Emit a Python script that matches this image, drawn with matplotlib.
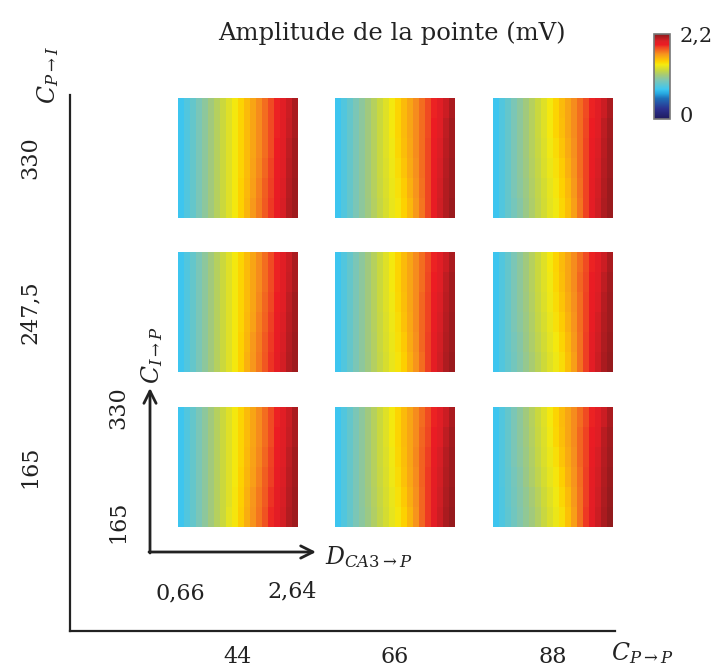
import numpy as np
import matplotlib
matplotlib.use("Agg")
import matplotlib.pyplot as plt
from matplotlib.colors import LinearSegmentedColormap
from matplotlib.lines import Line2D

plt.rcParams['font.family'] = ['DejaVu Serif']
plt.rcParams['mathtext.fontset'] = 'dejavuserif'

# valeurs en centiemes de mV, 6 lignes (haut -> bas) x 20 colonnes (D_CA3->P)
amp_330_44 = [
    [77, 84, 91, 98, 105, 113, 120, 127, 134, 141, 148, 156, 163, 170, 177, 184, 191, 199, 206, 213],
    [77, 84, 91, 98, 105, 113, 120, 127, 134, 141, 148, 156, 163, 170, 177, 184, 191, 199, 207, 213],
    [77, 84, 91, 98, 105, 113, 120, 127, 134, 141, 148, 156, 163, 170, 177, 184, 192, 200, 208, 214],
    [77, 84, 91, 98, 105, 113, 120, 127, 134, 141, 148, 156, 164, 171, 178, 186, 193, 201, 209, 214],
    [77, 84, 91, 98, 105, 113, 120, 127, 134, 141, 149, 157, 165, 172, 180, 187, 194, 202, 210, 215],
    [77, 84, 91, 98, 105, 113, 120, 127, 134, 141, 149, 158, 166, 173, 181, 188, 195, 203, 211, 215]]
amp_2475_44 = [
    [77, 84, 91, 98, 105, 113, 120, 127, 134, 141, 148, 156, 163, 170, 177, 184, 191, 199, 206, 213],
    [77, 84, 91, 98, 105, 113, 120, 127, 134, 141, 148, 156, 163, 170, 177, 184, 191, 199, 207, 213],
    [77, 84, 91, 98, 105, 113, 120, 127, 134, 141, 148, 156, 163, 171, 178, 185, 192, 200, 208, 214],
    [77, 84, 91, 98, 105, 113, 120, 127, 134, 141, 148, 157, 164, 172, 179, 187, 194, 202, 209, 214],
    [77, 84, 91, 98, 105, 113, 120, 127, 134, 141, 149, 158, 166, 173, 181, 188, 195, 203, 210, 215],
    [77, 84, 91, 98, 105, 113, 120, 127, 134, 141, 149, 159, 167, 174, 182, 189, 196, 204, 211, 215]]
amp_165_44 = [
    [77, 84, 91, 98, 105, 113, 120, 127, 134, 141, 148, 156, 163, 170, 177, 184, 191, 199, 206, 213],
    [77, 84, 91, 98, 105, 113, 120, 127, 134, 141, 148, 156, 163, 170, 177, 184, 192, 200, 207, 213],
    [77, 84, 91, 98, 105, 113, 120, 127, 134, 141, 148, 157, 164, 171, 178, 186, 193, 201, 208, 214],
    [77, 84, 91, 98, 105, 113, 120, 127, 134, 141, 149, 158, 165, 172, 180, 187, 195, 202, 209, 214],
    [77, 84, 91, 98, 105, 113, 120, 127, 134, 142, 150, 159, 167, 174, 181, 189, 196, 203, 210, 215],
    [77, 84, 91, 98, 105, 113, 120, 127, 135, 142, 151, 160, 168, 175, 183, 190, 197, 204, 211, 215]]
amp_330_66 = [
    [77, 84, 91, 98, 105, 113, 120, 127, 134, 141, 148, 156, 163, 170, 177, 184, 191, 199, 206, 213],
    [77, 84, 91, 98, 105, 113, 120, 127, 134, 141, 148, 156, 163, 170, 177, 184, 192, 200, 208, 214],
    [77, 84, 91, 98, 105, 113, 120, 127, 134, 140, 147, 155, 162, 170, 177, 185, 193, 202, 209, 214],
    [77, 84, 91, 98, 105, 113, 120, 127, 133, 139, 146, 153, 161, 169, 177, 185, 194, 203, 210, 215],
    [77, 84, 91, 98, 105, 113, 120, 126, 132, 138, 144, 151, 159, 168, 176, 185, 195, 204, 211, 215],
    [77, 84, 91, 98, 105, 112, 119, 125, 131, 137, 142, 149, 157, 166, 175, 185, 195, 205, 211, 216]]
amp_2475_66 = [
    [77, 84, 91, 98, 105, 113, 120, 127, 134, 141, 148, 156, 163, 170, 177, 184, 191, 199, 206, 213],
    [77, 84, 91, 98, 105, 113, 120, 127, 134, 141, 148, 156, 163, 170, 177, 185, 192, 200, 208, 214],
    [77, 84, 91, 98, 105, 113, 120, 127, 134, 140, 147, 155, 163, 170, 178, 186, 194, 202, 209, 214],
    [77, 84, 91, 98, 105, 113, 120, 126, 133, 139, 146, 154, 162, 170, 178, 186, 195, 203, 210, 215],
    [77, 84, 91, 98, 105, 113, 119, 126, 132, 138, 145, 152, 161, 169, 178, 187, 196, 204, 211, 215],
    [77, 84, 91, 98, 105, 112, 119, 125, 131, 137, 143, 150, 159, 168, 177, 187, 196, 205, 212, 216]]
amp_165_66 = [
    [77, 84, 91, 98, 105, 113, 120, 127, 134, 141, 148, 156, 163, 170, 177, 184, 191, 199, 206, 213],
    [77, 84, 91, 98, 105, 113, 120, 127, 134, 141, 148, 156, 163, 170, 178, 185, 193, 201, 208, 214],
    [77, 84, 91, 98, 105, 113, 120, 127, 133, 140, 147, 155, 163, 171, 179, 187, 195, 203, 210, 215],
    [77, 84, 91, 98, 105, 113, 120, 126, 132, 139, 146, 154, 162, 170, 179, 188, 196, 204, 211, 215],
    [77, 84, 91, 98, 105, 112, 119, 125, 131, 137, 144, 152, 160, 169, 178, 188, 197, 205, 212, 216],
    [77, 84, 91, 98, 104, 111, 118, 124, 130, 136, 142, 149, 158, 168, 178, 188, 198, 206, 213, 217]]
amp_330_88 = [
    [77, 84, 91, 98, 105, 113, 120, 127, 134, 141, 148, 156, 163, 170, 177, 184, 191, 199, 206, 213],
    [77, 84, 91, 98, 105, 113, 120, 127, 134, 141, 148, 155, 163, 170, 177, 185, 192, 200, 208, 214],
    [77, 84, 91, 98, 105, 113, 120, 126, 133, 140, 146, 153, 161, 169, 177, 186, 194, 202, 209, 215],
    [77, 84, 91, 98, 105, 112, 119, 125, 132, 138, 144, 151, 159, 168, 177, 186, 195, 203, 210, 215],
    [77, 84, 91, 98, 104, 111, 118, 124, 130, 136, 142, 149, 157, 166, 176, 186, 196, 204, 211, 216],
    [77, 84, 91, 97, 103, 110, 117, 123, 129, 135, 140, 147, 155, 165, 175, 186, 197, 205, 212, 216]]
amp_2475_88 = [
    [77, 84, 91, 98, 105, 113, 120, 127, 134, 141, 148, 156, 163, 170, 177, 184, 191, 199, 206, 213],
    [77, 84, 91, 98, 105, 113, 120, 127, 134, 140, 147, 155, 163, 170, 178, 185, 193, 201, 208, 214],
    [77, 84, 91, 98, 105, 112, 119, 126, 133, 139, 146, 153, 161, 169, 177, 186, 194, 202, 210, 215],
    [77, 84, 91, 98, 104, 111, 118, 125, 131, 137, 144, 151, 159, 168, 177, 186, 195, 204, 211, 215],
    [77, 84, 91, 97, 103, 110, 117, 123, 129, 135, 141, 148, 157, 166, 176, 187, 197, 205, 212, 216],
    [77, 84, 90, 96, 102, 109, 116, 122, 128, 134, 139, 146, 155, 165, 176, 187, 198, 206, 213, 217]]
amp_165_88 = [
    [77, 84, 91, 98, 105, 113, 120, 127, 134, 141, 148, 156, 163, 170, 177, 184, 191, 199, 206, 213],
    [77, 84, 91, 98, 105, 112, 119, 126, 133, 140, 147, 155, 163, 170, 178, 186, 193, 201, 209, 214],
    [77, 84, 91, 98, 104, 111, 118, 125, 132, 138, 145, 153, 161, 169, 178, 186, 195, 203, 210, 215],
    [77, 84, 90, 97, 103, 110, 117, 123, 130, 136, 142, 150, 159, 168, 177, 187, 196, 204, 211, 216],
    [77, 83, 90, 96, 102, 108, 115, 121, 128, 134, 140, 147, 156, 166, 176, 187, 197, 205, 212, 217],
    [77, 83, 89, 95, 101, 107, 113, 119, 126, 132, 138, 145, 154, 165, 176, 188, 198, 206, 213, 218]]

c_pp_labels = ['44', '66', '88']
c_pi_labels = ['330', '247,5', '165']
panels = [[amp_330_44, amp_330_66, amp_330_88],
          [amp_2475_44, amp_2475_66, amp_2475_88],
          [amp_165_44, amp_165_66, amp_165_88]]
vmin, vmax = 0, 2.2

W, H = 715, 671


def fx(x):
    return x / W


def fy(y):
    return 1 - y / H


cmap = LinearSegmentedColormap.from_list('amp', [
    (0.00, '#1f1a5e'), (0.12, '#2b3190'), (0.24, '#1f6fb8'), (0.30, '#27aae1'),
    (0.35, '#3ec6f0'), (0.45, '#7dc6b5'), (0.52, '#a5ca78'), (0.58, '#cdd93a'),
    (0.64, '#f4ea10'), (0.68, '#fed100'), (0.765, '#f7941d'), (0.85, '#ef4123'),
    (0.875, '#ec1c24'), (0.92, '#dd1f26'), (1.00, '#8a1a1c')])

fig = plt.figure(figsize=(W / 100, H / 100), dpi=100)

col_x = [178, 335, 493]
row_y = [98, 252, 407]
pw, ph = 120, 120
for i in range(3):
    for j in range(3):
        ax = fig.add_axes([fx(col_x[j]), fy(row_y[i] + ph), pw / W, ph / H])
        ax.imshow(np.array(panels[i][j]) / 100, cmap=cmap, vmin=vmin, vmax=vmax,
                  aspect='auto', interpolation='nearest')
        ax.set_axis_off()

txt = '#222222'
# grands axes
fig.add_artist(Line2D([fx(70), fx(70)], [fy(95), fy(631)], color=txt, lw=1.6))
fig.add_artist(Line2D([fx(70), fx(615)], [fy(631), fy(631)], color=txt, lw=1.6))

fs = 16
for j, lab in enumerate(c_pp_labels):
    fig.text(fx(col_x[j] + pw / 2), fy(657), lab, ha='center', va='center', fontsize=fs, color=txt)
for i, lab in enumerate(c_pi_labels):
    fig.text(fx(30), fy(row_y[i] + ph / 2), lab, ha='center', va='center', rotation=90,
             fontsize=fs, color=txt)
fig.text(fx(611), fy(653), r'$C_{P\rightarrow P}$', ha='left', va='center', fontsize=17, color=txt)
fig.text(fx(48), fy(75), r'$C_{P\rightarrow I}$', ha='center', va='center', rotation=90,
         fontsize=17, color=txt)

fig.text(fx(392), fy(33), 'Amplitude de la pointe (mV)', ha='center', va='center',
         fontsize=17.5, color=txt)

# petits axes (D_CA3->P, C_I->P)
arrow = dict(arrowstyle='->', lw=2, color=txt, mutation_scale=22, shrinkA=0, shrinkB=0)
fig.add_artist(plt.Annotation('', xy=(fx(150), fy(388)), xytext=(fx(150), fy(553)),
                              xycoords='figure fraction', arrowprops=arrow))
fig.add_artist(plt.Annotation('', xy=(fx(316), fy(552)), xytext=(fx(149), fy(552)),
                              xycoords='figure fraction', arrowprops=arrow))
fig.text(fx(325), fy(557), r'$D_{CA3\rightarrow P}$', ha='left', va='center', fontsize=17, color=txt)
fig.text(fx(152), fy(384), r'$C_{I\rightarrow P}$', ha='center', va='bottom', rotation=90,
         fontsize=17, color=txt)
fig.text(fx(118), fy(408), '330', ha='center', va='center', rotation=90, fontsize=fs, color=txt)
fig.text(fx(118), fy(522), '165', ha='center', va='center', rotation=90, fontsize=fs, color=txt)
fig.text(fx(180), fy(593), '0,66', ha='center', va='center', fontsize=fs, color=txt)
fig.text(fx(292), fy(591), '2,64', ha='center', va='center', fontsize=fs, color=txt)

# barre de couleur
cax = fig.add_axes([fx(654), fy(119), 16 / W, 85 / H])
sm = plt.cm.ScalarMappable(cmap=cmap, norm=plt.Normalize(vmin, vmax))
cb = fig.colorbar(sm, cax=cax)
cb.set_ticks([])
cb.outline.set_edgecolor('#777777')
cb.outline.set_linewidth(1.2)
fig.text(fx(680), fy(36), '2,2', ha='left', va='center', fontsize=15, color=txt)
fig.text(fx(680), fy(117), '0', ha='left', va='center', fontsize=15, color=txt)

fig.savefig('out.png', dpi=100)
